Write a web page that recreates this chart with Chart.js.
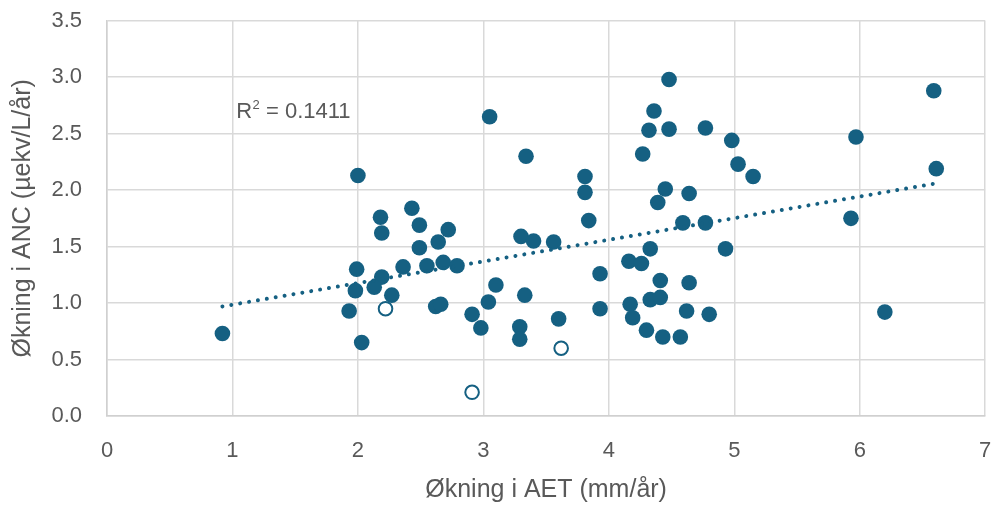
<!DOCTYPE html>
<html>
<head>
<meta charset="utf-8">
<script src="https://cdn.jsdelivr.net/npm/chart.js@4.4.1/dist/chart.umd.min.js"></script>
<style>
  html, body { margin: 0; padding: 0; background: #ffffff; }
  #wrap { width: 994px; height: 505px; }
</style>
</head>
<body>
<div id="wrap"><canvas id="c" width="994" height="505"></canvas></div>
<script>
// Økning i AET (mm/år) vs Økning i ANC (µekv/L/år) — filled markers
const aetFilled = [0.92, 2.00, 2.18, 2.19, 2.43, 2.49, 2.72, 2.49, 2.64, 1.99, 2.36, 2.55, 2.68, 2.79, 2.19, 2.13, 1.98, 2.27, 1.93, 2.62, 2.66, 2.91, 2.98, 2.03, 3.04, 3.05, 3.34, 3.81, 3.81, 3.84, 3.30, 3.40, 3.56, 3.10, 3.33, 3.29, 3.29, 3.60, 3.93, 3.93, 4.48, 4.36, 4.32, 4.48, 4.77, 4.98, 5.03, 4.27, 4.45, 4.39, 4.64, 4.59, 4.77, 4.93, 4.33, 4.16, 4.26, 4.41, 4.64, 4.33, 4.41, 4.17, 4.19, 4.62, 4.80, 4.30, 4.43, 4.57, 5.15, 5.97, 6.59, 6.61, 5.93, 6.20];
const ancFilled = [0.73, 2.13, 1.76, 1.62, 1.84, 1.69, 1.65, 1.49, 1.54, 1.30, 1.32, 1.33, 1.36, 1.33, 1.23, 1.14, 1.11, 1.07, 0.93, 0.97, 0.99, 0.90, 0.78, 0.65, 1.01, 2.65, 2.30, 2.12, 1.98, 1.73, 1.59, 1.55, 1.54, 1.16, 1.07, 0.79, 0.68, 0.86, 1.26, 0.95, 2.98, 2.70, 2.53, 2.54, 2.55, 2.44, 2.23, 2.32, 2.01, 1.89, 1.97, 1.71, 1.71, 1.48, 1.48, 1.37, 1.35, 1.20, 1.18, 1.03, 1.05, 0.99, 0.87, 0.93, 0.90, 0.76, 0.70, 0.70, 2.12, 2.47, 2.88, 2.19, 1.75, 0.92];
// open markers
const aetOpen = [2.22, 2.91, 3.62];
const ancOpen = [0.95, 0.21, 0.60];
// linear trendline endpoints
const trendX = [0.92, 6.61];
const trendY = [0.97, 2.06];
const r2Label = "0.1411";
const xTicks = [0, 1, 2, 3, 4, 5, 6, 7];
const yTicks = [0.0, 0.5, 1.0, 1.5, 2.0, 2.5, 3.0, 3.5];

const BLUE = '#156082';
const GREY_TEXT = '#595959';
const GRID = '#d9d9d9';
const FONT = "'Liberation Sans', Arial, sans-serif";

const toPts = (xs, ys) => xs.map((x, i) => ({ x: x, y: ys[i] }));

const r2Plugin = {
  id: 'r2',
  afterDatasetsDraw(chart) {
    const { ctx, scales } = chart;
    const x0 = scales.x.getPixelForValue(1.03);
    const yb = scales.y.getPixelForValue(2.64);
    ctx.save();
    ctx.fillStyle = GREY_TEXT;
    ctx.textBaseline = 'alphabetic';
    ctx.textAlign = 'left';
    ctx.font = "22px " + FONT;
    ctx.fillText('R', x0, yb);
    let w = ctx.measureText('R').width;
    ctx.font = "13px " + FONT;
    ctx.fillText('2', x0 + w + 0.5, yb - 9);
    w += ctx.measureText('2').width + 0.5;
    ctx.font = "22px " + FONT;
    ctx.fillText(' = ' + r2Label, x0 + w, yb);
    ctx.restore();
  }
};

function noPad(s) {
  s.paddingLeft = 0; s.paddingRight = 0; s.paddingTop = 0; s.paddingBottom = 0;
}

new Chart(document.getElementById('c'), {
  type: 'scatter',
  data: {
    datasets: [
      {
        type: 'line',
        label: 'trend',
        data: toPts(trendX, trendY),
        borderColor: BLUE,
        borderWidth: 4,
        borderDash: [0.01, 9],
        borderCapStyle: 'round',
        pointRadius: 0,
        fill: false,
        order: 0
      },
      {
        label: 'filled',
        data: toPts(aetFilled, ancFilled),
        backgroundColor: BLUE,
        borderColor: BLUE,
        borderWidth: 0,
        pointRadius: 7.8,
        pointHoverRadius: 7.8,
        order: 1
      },
      {
        label: 'open',
        data: toPts(aetOpen, ancOpen),
        backgroundColor: '#ffffff',
        borderColor: BLUE,
        borderWidth: 2,
        pointRadius: 6.8,
        pointHoverRadius: 6.8,
        order: 1
      }
    ]
  },
  options: {
    responsive: false,
    animation: false,
    events: [],
    layout: { padding: { top: 20.7, right: 8, left: 0, bottom: 0 } },
    plugins: {
      legend: { display: false },
      tooltip: { enabled: false }
    },
    scales: {
      x: {
        type: 'linear',
        min: 0,
        max: 7,
        afterBuildTicks: (s) => { s.ticks = xTicks.map(v => ({ value: v })); },
        afterFit: (s) => { s.height = 89; noPad(s); },
        grid: { color: GRID, lineWidth: 1.5, drawTicks: false },
        border: { color: '#d0d0d0', width: 1.5 },
        ticks: {
          color: GREY_TEXT,
          font: { family: FONT, size: 22 },
          padding: 22,
          callback: (v) => String(v)
        },
        title: {
          display: true,
          text: 'Økning i AET (mm/år)',
          color: GREY_TEXT,
          font: { family: FONT, size: 25 },
          padding: { top: 0, bottom: 0 }
        }
      },
      y: {
        type: 'linear',
        min: 0,
        max: 3.5,
        afterBuildTicks: (s) => { s.ticks = yTicks.map(v => ({ value: v })); },
        afterFit: (s) => { s.width = 107; noPad(s); },
        grid: { color: GRID, lineWidth: 1.5, drawTicks: false },
        border: { color: '#d0d0d0', width: 1.5 },
        ticks: {
          color: GREY_TEXT,
          font: { family: FONT, size: 22 },
          padding: 25,
          callback: (v) => Number(v).toFixed(1)
        },
        title: {
          display: true,
          text: 'Økning i ANC (µekv/L/år)',
          color: GREY_TEXT,
          font: { family: FONT, size: 25 },
          padding: { top: 8, bottom: 0 }
        }
      }
    }
  },
  plugins: [r2Plugin]
});
</script>
</body>
</html>
